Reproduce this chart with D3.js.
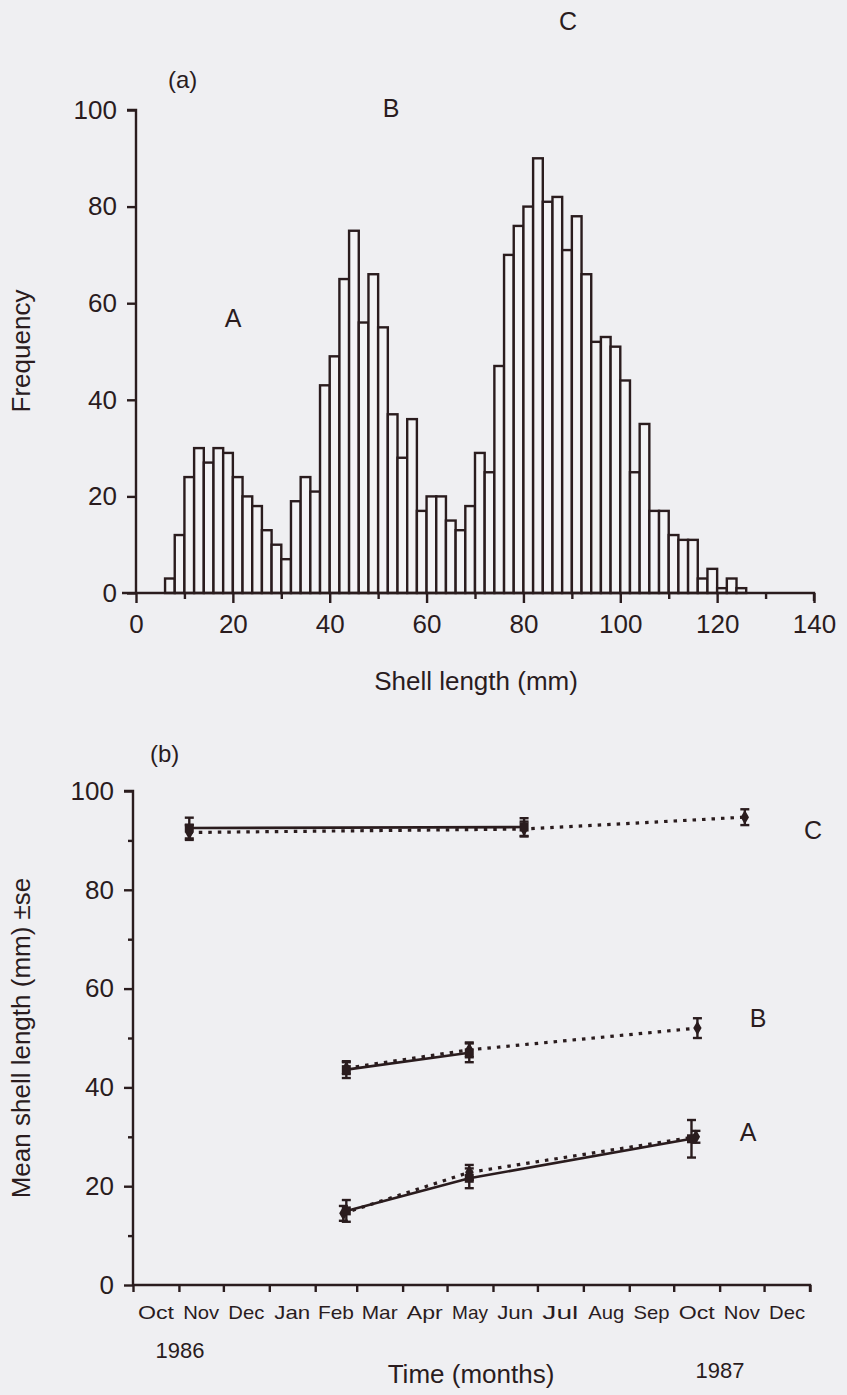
<!DOCTYPE html>
<html>
<head>
<meta charset="utf-8">
<script src="https://cdn.jsdelivr.net/npm/d3@7"></script>
<style>
  body { margin: 0; background: #efeff2; }
  svg { display: block; }
  text { font-family: "Liberation Sans", Arial, sans-serif; fill: #2a1c1e; }
</style>
</head>
<body>
<div id="chart"></div>
<script>
// ---- panel (a): shell length histogram, 2 mm bins ----
const binStart = 6;
const binWidth = 2;
const frequency = [3, 12, 24, 30, 27, 30, 29, 24, 20, 18, 13, 10, 7, 19, 24, 21, 43, 49, 65, 75,
                   56, 66, 55, 37, 28, 36, 17, 20, 20, 15, 13, 18, 29, 25, 47, 70, 76, 80, 90, 81,
                   82, 71, 78, 66, 52, 53, 51, 44, 25, 35, 17, 17, 12, 11, 11, 3, 5, 1, 3, 1];
const lengthTicks = [0, 20, 40, 60, 80, 100, 120, 140];
const freqTicks = [0, 20, 40, 60, 80, 100];

// ---- panel (b): mean shell length per cohort ----
const monthNames = ["Oct", "Nov", "Dec", "Jan", "Feb", "Mar", "Apr", "May", "Jun", "Jul", "Aug", "Sep", "Oct", "Nov", "Dec"];
const meanTicks = [0, 20, 40, 60, 80, 100];

const cSolidDates = ["1986-11-08", "1987-06-22"];
const cSolidMean = [92.5, 92.7];
const cSolidSe = [2.1, 1.8];
const cDotDates = ["1986-11-08", "1987-06-22", "1987-11-18"];
const cDotMean = [91.6, 92.3, 94.7];
const cDotSe = [1.5, 1.5, 1.6];

const bSolidDates = ["1987-02-22", "1987-05-16"];
const bSolidMean = [43.6, 47.0];
const bSolidSe = [1.7, 1.9];
const bDotDates = ["1987-02-22", "1987-05-16", "1987-10-17"];
const bDotMean = [43.9, 47.6, 52.0];
const bDotSe = [1.2, 1.5, 2.0];

const aSolidDates = ["1987-02-22", "1987-05-16", "1987-10-13"];
const aSolidMean = [15.0, 21.6, 29.6];
const aSolidSe = [2.2, 2.0, 3.8];
const aDotDates = ["1987-02-20", "1987-05-16", "1987-10-16"];
const aDotMean = [14.5, 22.8, 30.0];
const aDotSe = [1.5, 1.5, 1.2];

const ink = "#2a1c1e";
const width = 847, height = 1395;

const svg = d3.select("#chart").append("svg")
    .attr("width", width)
    .attr("height", height);

// ================= panel (a) =================
const xa = d3.scaleLinear().domain([0, 140]).range([136, 814]);
const ya = d3.scaleLinear().domain([0, 100]).range([593, 110]);

const bins = frequency.map((f, i) => ({ x0: binStart + i * binWidth, x1: binStart + (i + 1) * binWidth, f }));

svg.append("g").selectAll("rect")
    .data(bins)
    .enter()
    .append("rect")
    .attr("x", d => xa(d.x0))
    .attr("y", d => ya(d.f))
    .attr("width", d => xa(d.x1) - xa(d.x0))
    .attr("height", d => ya(0) - ya(d.f))
    .attr("fill", "#f3f3f5")
    .attr("stroke", ink)
    .attr("stroke-width", 2.4);

// x axis (a)
const xAxisA = svg.append("g")
    .attr("transform", `translate(0,${ya(0)})`)
    .call(d3.axisBottom(xa).tickValues(d3.range(0, 141, 10)).tickSize(7).tickFormat(""));
xAxisA.selectAll(".tick line").attr("y2", d => d % 20 === 0 ? 10 : 6);
svg.append("g")
    .attr("transform", `translate(0,${ya(0)})`)
    .call(d3.axisBottom(xa).tickValues(lengthTicks).tickSize(0).tickPadding(22))
    .call(g => g.select(".domain").remove())
    .selectAll("text").attr("font-size", 26).attr("fill", ink);
xAxisA.select(".domain").attr("d", `M${xa(0) - 14},0H${xa(140)}V8`);

// y axis (a)
const yAxisA = svg.append("g")
    .attr("transform", `translate(${xa(0)},0)`)
    .call(d3.axisLeft(ya).tickValues(freqTicks).tickSize(9).tickPadding(10));
yAxisA.select(".domain").attr("d", `M-9,${ya(100)}H0V${ya(0)}`);
yAxisA.selectAll("text").attr("font-size", 26).attr("fill", ink);

[xAxisA, yAxisA].forEach(g => {
  g.selectAll("path, line").attr("stroke", ink).attr("stroke-width", 2.4);
});

svg.append("text").attr("transform", "translate(30,351) rotate(-90)")
    .attr("text-anchor", "middle").attr("font-size", 26).text("Frequency");
svg.append("text").attr("x", 476).attr("y", 690)
    .attr("text-anchor", "middle").attr("font-size", 26).text("Shell length (mm)");
svg.append("text").attr("x", 168).attr("y", 88).attr("font-size", 24).text("(a)");
svg.append("text").attr("x", 233).attr("y", 327).attr("text-anchor", "middle").attr("font-size", 25).text("A");
svg.append("text").attr("x", 391).attr("y", 117).attr("text-anchor", "middle").attr("font-size", 25).text("B");
svg.append("text").attr("x", 568).attr("y", 30).attr("text-anchor", "middle").attr("font-size", 25).text("C");

// ================= panel (b) =================
const parse = d3.timeParse("%Y-%m-%d");
const xb = d3.scaleTime().domain([new Date(1986, 9, 1), new Date(1988, 0, 1)]).range([133, 810]);
const yb = d3.scaleLinear().domain([0, 100]).range([1285, 791]);

const months = d3.timeMonth.range(new Date(1986, 9, 1), new Date(1988, 0, 1));

const xAxisB = svg.append("g")
    .attr("transform", `translate(0,${yb(0)})`)
    .call(d3.axisBottom(xb).tickValues(months.concat([new Date(1988, 0, 1)])).tickSize(7).tickFormat(""));
xAxisB.select(".domain").attr("d", `M${xb.range()[0]},0H${xb.range()[1]}V7`);

svg.append("g").selectAll("text.month")
    .data(months)
    .enter()
    .append("text")
    .attr("class", "month")
    .attr("x", d => (xb(d) + xb(d3.timeMonth.offset(d, 1))) / 2)
    .attr("y", yb(0) + 34)
    .attr("text-anchor", "middle")
    .attr("font-size", 19)
    .attr("textLength", 36)
    .attr("lengthAdjust", "spacingAndGlyphs")
    .text((d, i) => monthNames[i]);

const yAxisB = svg.append("g")
    .attr("transform", `translate(${xb.range()[0]},0)`)
    .call(d3.axisLeft(yb).tickValues(d3.range(0, 101, 10)).tickSize(9).tickPadding(10)
        .tickFormat(d => meanTicks.includes(d) ? d : ""));
yAxisB.selectAll(".tick line").attr("x2", d => d % 20 === 0 ? -9 : -5);
yAxisB.select(".domain").attr("d", `M-9,${yb(100)}H0V${yb(0)}`);
yAxisB.selectAll("text").attr("font-size", 26).attr("fill", ink);

[xAxisB, yAxisB].forEach(g => {
  g.selectAll("path, line").attr("stroke", ink).attr("stroke-width", 2.4);
});

svg.append("text").attr("transform", "translate(30,1038) rotate(-90)")
    .attr("text-anchor", "middle").attr("font-size", 26).text("Mean shell length (mm) \u00b1se");
svg.append("text").attr("x", 471).attr("y", 1383)
    .attr("text-anchor", "middle").attr("font-size", 26).text("Time (months)");
svg.append("text").attr("x", 180).attr("y", 1358).attr("text-anchor", "middle").attr("font-size", 22).text("1986");
svg.append("text").attr("x", 720).attr("y", 1378).attr("text-anchor", "middle").attr("font-size", 22).text("1987");
svg.append("text").attr("x", 150).attr("y", 762).attr("font-size", 24).text("(b)");
svg.append("text").attr("x", 813).attr("y", 839).attr("text-anchor", "middle").attr("font-size", 25).text("C");
svg.append("text").attr("x", 758).attr("y", 1027).attr("text-anchor", "middle").attr("font-size", 25).text("B");
svg.append("text").attr("x", 748).attr("y", 1141).attr("text-anchor", "middle").attr("font-size", 25).text("A");

function makeSeries(dates, mean, se) {
  return dates.map((d, i) => ({ date: parse(d), mean: mean[i], se: se[i] }));
}

const solidSeries = [
  makeSeries(cSolidDates, cSolidMean, cSolidSe),
  makeSeries(bSolidDates, bSolidMean, bSolidSe),
  makeSeries(aSolidDates, aSolidMean, aSolidSe)
];
const dottedSeries = [
  makeSeries(cDotDates, cDotMean, cDotSe),
  makeSeries(bDotDates, bDotMean, bDotSe),
  makeSeries(aDotDates, aDotMean, aDotSe)
];

const line = d3.line().x(d => xb(d.date)).y(d => yb(d.mean));

function drawErrorBars(series) {
  const g = svg.append("g").attr("stroke", ink).attr("stroke-width", 2.4);
  series.forEach(s => {
    s.forEach(d => {
      const x = xb(d.date);
      g.append("line").attr("x1", x).attr("x2", x).attr("y1", yb(d.mean - d.se)).attr("y2", yb(d.mean + d.se));
      [d.mean - d.se, d.mean + d.se].forEach(v => {
        g.append("line").attr("x1", x - 4.5).attr("x2", x + 4.5).attr("y1", yb(v)).attr("y2", yb(v));
      });
    });
  });
}

// dotted series
dottedSeries.forEach(s => {
  svg.append("path").datum(s).attr("d", line)
      .attr("fill", "none").attr("stroke", ink).attr("stroke-width", 3.2)
      .attr("stroke-dasharray", "3.5,6");
});
drawErrorBars(dottedSeries);
svg.append("g").selectAll("path")
    .data(dottedSeries.flat())
    .enter()
    .append("path")
    .attr("transform", d => `translate(${xb(d.date)},${yb(d.mean)})`)
    .attr("d", d3.symbol(d3.symbolDiamond, 60))
    .attr("fill", ink);

// solid series
solidSeries.forEach(s => {
  svg.append("path").datum(s).attr("d", line)
      .attr("fill", "none").attr("stroke", ink).attr("stroke-width", 2.6);
});
drawErrorBars(solidSeries);
svg.append("g").selectAll("rect")
    .data(solidSeries.flat())
    .enter()
    .append("rect")
    .attr("x", d => xb(d.date) - 4.5)
    .attr("y", d => yb(d.mean) - 4.5)
    .attr("width", 9)
    .attr("height", 9)
    .attr("fill", ink);
</script>
</body>
</html>
